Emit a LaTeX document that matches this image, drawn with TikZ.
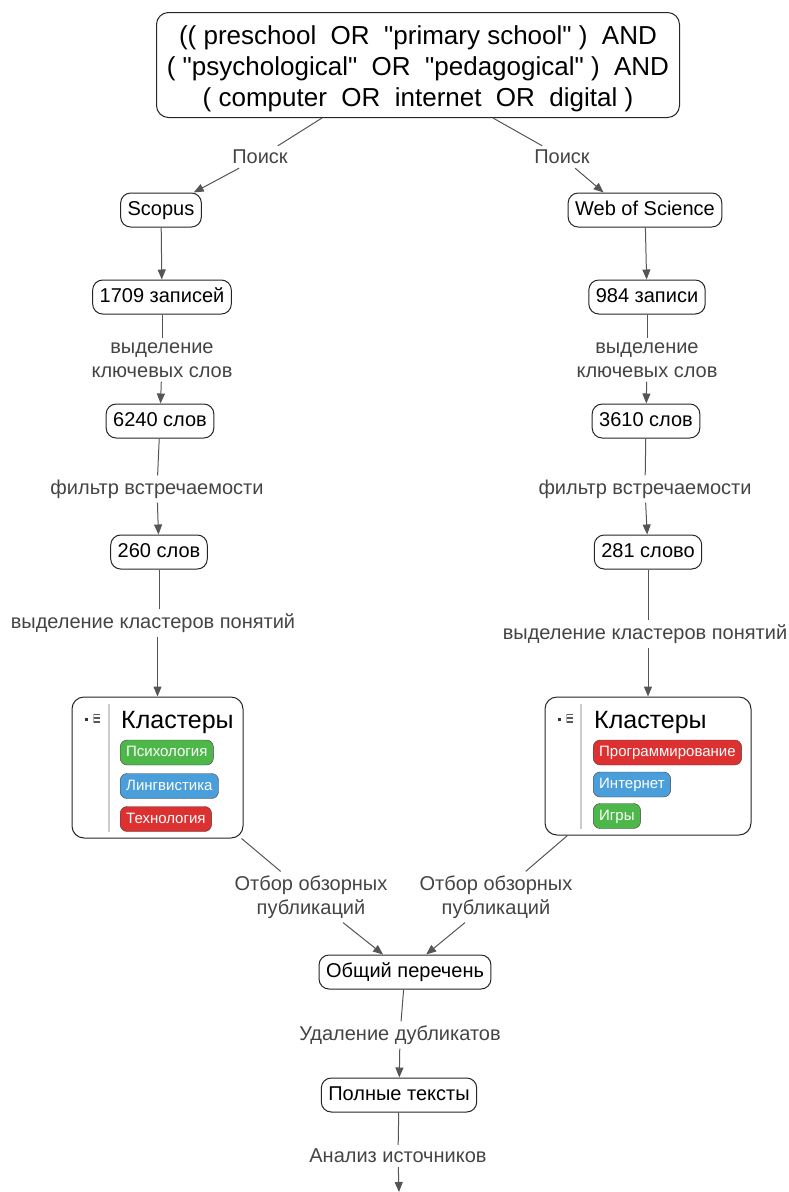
\documentclass[tikz,border=0pt]{standalone}
\usepackage{fontspec}
\setmainfont{Liberation Sans}
\newfontfamily\qfont{Liberation Sans}
\usetikzlibrary{arrows.meta}
\definecolor{edgegray}{HTML}{555555}
\definecolor{labgray}{HTML}{444444}
\definecolor{chipgreen}{HTML}{4DB849}
\definecolor{chipblue}{HTML}{4A9ED9}
\definecolor{chipred}{HTML}{DD3030}
\definecolor{sepgray}{HTML}{CCCCCC}
\begin{document}
\begin{tikzpicture}[x=1pt,y=-1pt,
 box/.style={draw=black!85, line width=1pt, rounded corners=10pt, fill=white,
   font=\fontsize{20}{22}\selectfont, inner xsep=7pt, minimum height=34pt,
   text height=14pt, text depth=4pt, inner ysep=0pt},
 lab/.style={text=labgray, font=\fontsize{20}{24}\selectfont, align=center, inner sep=4pt},
 conn/.style={draw=edgegray, line width=1pt},
 arr/.style={conn, -{Triangle[length=10pt,width=8pt]}},
 chip/.style={draw=black!75, rounded corners=7pt, text=white, font=\fontsize{15}{17}\selectfont,
   anchor=west, minimum height=25pt, inner xsep=6pt, text height=11pt, text depth=3pt},
 clbox/.style={draw=black!85, line width=1pt, rounded corners=12pt, fill=white, inner sep=0pt},
 cltitle/.style={font=\fontsize{25}{28}\selectfont, anchor=base west, inner sep=0pt},
 icondash/.style={black!65, line width=1.6pt}
]
\useasboundingbox (0,0) rectangle (788,1192);

% top query
\node[draw=black!85, line width=1pt, rounded corners=12pt,
  minimum width=523pt, minimum height=105pt, inner sep=0pt] (top) at (418,65) {};
\node[align=center, font=\qfont\fontsize{26}{31}\selectfont, inner sep=0pt] (toptext) at (418,69)
  {((~preschool~~OR~~"primary school"~)~~AND\\
   (~"psychological"~~OR~~"pedagogical"~)~~AND\\
   (~computer~~OR~~internet~~OR~~digital~)};

% left chain
\node[box] (scopus) at (161,210) {Scopus};
\node[box] (n1709) at (162,297) {1709 записей};
\node[box] (n6240) at (160,421) {6240 слов};
\node[box] (n260) at (159,552) {260 слов};

% right chain
\node[box] (wos) at (645,210) {Web of Science};
\node[box] (n984) at (647,297) {984 записи};
\node[box] (n3610) at (646,421) {3610 слов};
\node[box] (n281) at (648,552) {281 слово};

% labels
\node[lab] (p1) at (260,157) {Поиск};
\node[lab] (p2) at (562,157) {Поиск};
\node[lab] (k1) at (162,360) {выделение\\ключевых слов};
\node[lab] (k2) at (647,360) {выделение\\ключевых слов};
\node[lab] (f1) at (157,489) {фильтр встречаемости};
\node[lab] (f2) at (645,489) {фильтр встречаемости};
\node[lab] (c1) at (153,623) {выделение кластеров понятий};
\node[lab] (c2) at (645,634) {выделение кластеров понятий};
\node[lab] (o1) at (311,897) {Отбор обзорных\\публикаций};
\node[lab] (o2) at (496,897) {Отбор обзорных\\публикаций};
\node[lab] (u) at (400,1035) {Удаление дубликатов};
\node[lab] (a) at (398,1156) {Анализ источников};

% cluster boxes
\node[clbox, minimum width=171pt, minimum height=141pt] (clL) at (157.5,767.5) {};
\node[clbox, minimum width=206pt, minimum height=138pt] (clR) at (648,766) {};

% left cluster content
\fill[black!80] (85,718) rectangle (88.3,721.3);
\draw[black!30, line width=0.6pt] (93.6,713.5) -- (93.6,722.5);
\draw[icondash] (94,714.4) -- (99.6,714.4) (94,718.2) -- (99.6,718.2) (94,721.8) -- (99.6,721.8);
\draw[sepgray, line width=2pt] (109,704) -- (109,832);
\node[cltitle] (tL) at (121,728) {Кластеры};
\node[chip, fill=chipgreen] (psy) at (120,752.5) {Психология};
\node[chip, fill=chipblue] (lin) at (120,786) {Лингвистика};
\node[chip, fill=chipred] (tec) at (120,819) {Технология};

% right cluster content
\fill[black!80] (558,718) rectangle (561.3,721.3);
\draw[black!30, line width=0.6pt] (566.6,713.5) -- (566.6,722.5);
\draw[icondash] (567,714.4) -- (572.6,714.4) (567,718.2) -- (572.6,718.2) (567,721.8) -- (572.6,721.8);
\draw[sepgray, line width=2pt] (581,704) -- (581,829);
\node[cltitle] (tR) at (594,728) {Кластеры};
\node[chip, fill=chipred] (prog) at (593,752.5) {Программирование};
\node[chip, fill=chipblue] (inet) at (593,784.5) {Интернет};
\node[chip, fill=chipgreen] (igr) at (593,816) {Игры};

% bottom
\node[box] (obsh) at (405,972) {Общий перечень};
\node[box] (poln) at (399,1095) {Полные тексты};
\coordinate (endc) at (399,1192);

% connectors top
\draw[conn] ([xshift=-96pt]top.south) -- (p1);
\draw[arr] (p1) -- (scopus);
\draw[conn] ([xshift=75pt]top.south) -- (p2);
\draw[arr] (p2) -- ([xshift=36pt]wos.north west);

% left chain connectors
\draw[arr] (scopus) -- (n1709);
\draw[conn] (n1709) -- (k1);
\draw[arr] (k1) -- (n6240);
\draw[conn] (n6240) -- (f1);
\draw[arr] (f1) -- (n260);
\draw[conn] (n260) -- (n260 |- c1.north);
\draw[arr] (c1.south -| clL.north) -- (clL.north);

% right chain connectors
\draw[arr] (wos) -- (n984);
\draw[conn] (n984) -- (k2);
\draw[arr] (k2) -- (n3610);
\draw[conn] (n3610) -- (f2);
\draw[arr] (f2) -- (n281);
\draw[conn] (n281) -- (n281 |- c2.north);
\draw[arr] (c2.south -| clR.north) -- (clR.north);

% merge
\draw[conn] (clL) -- (o1);
\draw[arr] (o1) -- (obsh);
\draw[conn] (clR) -- (o2);
\draw[arr] (o2) -- (obsh);
\draw[conn] (obsh) -- (u);
\draw[arr] (u) -- (poln);
\draw[conn] (poln) -- (a);
\draw[arr] (a) -- (endc);
\end{tikzpicture}
\end{document}
